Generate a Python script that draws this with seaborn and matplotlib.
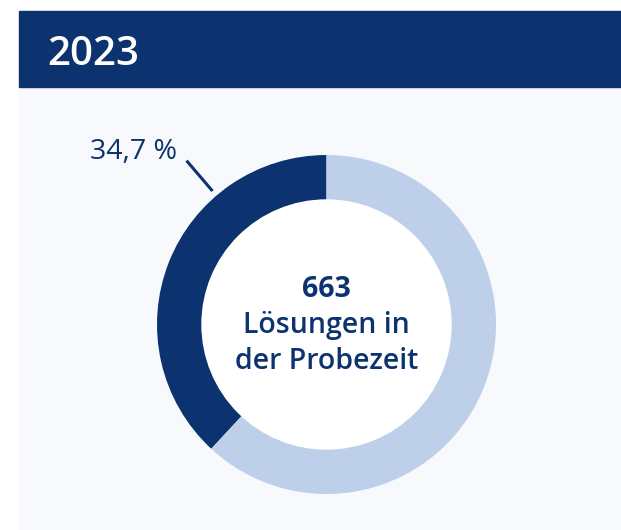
import seaborn as sns
import numpy as np
import matplotlib.pyplot as plt
from matplotlib.patches import Rectangle, Circle

sns.set_theme(style="white")
plt.rcParams['font.family'] = ['Open Sans', 'DejaVu Sans']

# data as drawn in the reference ring (share of the dark arc vs. the rest)
year = "2023"
segments = ["Lösungen in der Probezeit", "Rest"]
arc_shares = [38.1, 61.9]
share_label = "34,7 %"
total_label = "663"
center_lines = ["Lösungen in", "der Probezeit"]

dark_blue = "#0c336f"
light_blue = "#bed0e9"
panel_bg = "#f7f9fd"

W, H = 621, 530
fig = plt.figure(figsize=(W / 100, H / 100), dpi=100)
fig.patch.set_facecolor("white")

# panel + header band (behind the axes)
fig.patches.append(Rectangle((19 / W, 0), 1 - 19 / W, 443 / H,
                             transform=fig.transFigure, color=panel_bg, zorder=-2))
fig.patches.append(Rectangle((19 / W, 443 / H), 1 - 19 / W, 76 / H,
                             transform=fig.transFigure, color=dark_blue, zorder=-2))
fig.text(47 / W, (H - 65) / H, year, color="white", fontsize=29,
         fontweight="semibold", va="baseline", ha="left")

# donut axes, centred on the ring
cx, cy = 326.5, H - 324.5
half = 210
ax = fig.add_axes([(cx - half) / W, (cy - half) / H, 2 * half / W, 2 * half / H])
ax.patch.set_alpha(0)

outer_r, inner_r = 169.5, 124.5
ax.pie(arc_shares, colors=[dark_blue, light_blue], startangle=90,
       counterclock=True, radius=outer_r,
       wedgeprops=dict(width=outer_r - inner_r, linewidth=0))
ax.add_patch(Circle((0, 0), inner_r, color="white", zorder=3))
ax.set_xlim(-half, half)
ax.set_ylim(-half, half)
ax.set_aspect("equal")
ax.axis("off")

# leader line + percent label
ang = np.deg2rad(130.5)
r0, r1 = outer_r + 6, outer_r + 46
ax.plot([r0 * np.cos(ang), r1 * np.cos(ang)], [r0 * np.sin(ang), r1 * np.sin(ang)],
        color=dark_blue, lw=2.2, solid_capstyle="butt", zorder=4)
ax.text(-149.5, 165.5, share_label, color=dark_blue, fontsize=20.5,
        ha="right", va="baseline", zorder=4)

# centre text
ax.text(0, 27.8, total_label, color=dark_blue, fontsize=20.5, fontweight="bold",
        ha="center", va="baseline", zorder=5)
for i, line in enumerate(center_lines):
    ax.text(0, -8.5 - 36 * i, line, color=dark_blue, fontsize=20.5,
            fontweight="semibold", ha="center", va="baseline", zorder=5)

fig.savefig("out.png", dpi=100)
